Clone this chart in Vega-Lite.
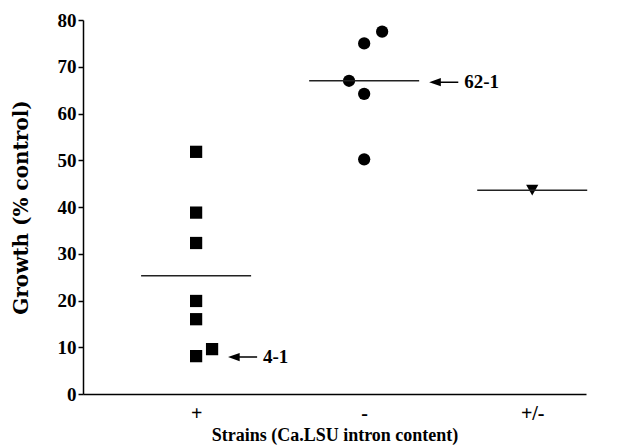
{
  "$schema": "https://vega.github.io/schema/vega-lite/v6.json",
  "width": 503,
  "height": 374,
  "autosize": "none",
  "padding": {"left": 83, "top": 20, "right": 58, "bottom": 53},
  "background": "white",
  "config": {
    "view": {"stroke": null},
    "font": "Liberation Serif",
    "axis": {
      "labelFont": "Liberation Serif",
      "titleFont": "Liberation Serif",
      "labelFontWeight": "bold",
      "titleFontWeight": "bold",
      "labelColor": "black",
      "titleColor": "black",
      "domainColor": "black",
      "tickColor": "black",
      "grid": false
    }
  },
  "datasets": {
    "points": [
      {"strain": "+", "slot": 1.0, "growth": 51.8},
      {"strain": "+", "slot": 1.0, "growth": 38.8},
      {"strain": "+", "slot": 1.0, "growth": 32.3},
      {"strain": "+", "slot": 1.0, "growth": 19.9},
      {"strain": "+", "slot": 1.0, "growth": 16.0},
      {"strain": "+", "slot": 1.0, "growth": 8.1},
      {"strain": "+", "slot": 1.095, "growth": 9.6},
      {"strain": "-", "slot": 2.107, "growth": 77.5},
      {"strain": "-", "slot": 2.0, "growth": 75.0},
      {"strain": "-", "slot": 1.91, "growth": 67.0},
      {"strain": "-", "slot": 2.0, "growth": 64.2},
      {"strain": "-", "slot": 2.0, "growth": 50.2},
      {"strain": "+/-", "slot": 3.0, "growth": 43.6}
    ],
    "means": [
      {"strain": "+", "slot": 1.0, "growth": 25.3},
      {"strain": "-", "slot": 2.0, "growth": 67.0},
      {"strain": "+/-", "slot": 3.0, "growth": 43.6}
    ],
    "notes": [
      {"strain": "-", "slot": 2.387, "growth": 66.7, "label": "62-1"},
      {"strain": "+", "slot": 1.19, "growth": 7.9, "label": "4-1"}
    ]
  },
  "encoding": {
    "x": {
      "field": "slot",
      "type": "quantitative",
      "scale": {"domain": [0.327, 3.32], "nice": false, "zero": false},
      "axis": {
        "values": [1, 2, 3],
        "labelExpr": "datum.value == 1 ? '+' : datum.value == 2 ? '-' : '+/-'",
        "title": "Strains (Ca.LSU intron content)",
        "labelFontSize": 20,
        "titleFontSize": 18,
        "ticks": false,
        "labelPadding": 9,
        "titlePadding": 3,
        "domainWidth": 1.5
      }
    },
    "y": {
      "field": "growth",
      "type": "quantitative",
      "scale": {"domain": [0, 80], "nice": false},
      "axis": {
        "values": [0, 10, 20, 30, 40, 50, 60, 70, 80],
        "title": "Growth (% control)",
        "titleFont": "DejaVu Serif",
        "labelFontSize": 19,
        "titleFontSize": 20,
        "tickSize": 5,
        "tickWidth": 1.5,
        "domainWidth": 1.5,
        "labelPadding": 2,
        "titlePadding": 26
      }
    }
  },
  "layer": [
    {
      "data": {"name": "points"},
      "mark": {"type": "point", "filled": true, "opacity": 1, "size": 150, "color": "black"},
      "encoding": {
        "shape": {
          "field": "strain",
          "type": "nominal",
          "scale": {"domain": ["+", "-", "+/-"], "range": ["square", "circle", "triangle-down"]},
          "legend": null
        }
      }
    },
    {
      "data": {"name": "means"},
      "mark": {"type": "tick", "orient": "horizontal", "size": 110, "thickness": 1.5, "color": "#222222", "opacity": 1}
    },
    {
      "data": {"name": "notes"},
      "mark": {
        "type": "point",
        "filled": true,
        "opacity": 1,
        "color": "black",
        "strokeWidth": 0,
        "size": 376,
        "shape": "M0,0L1.2,-0.42L1.2,0.42Z M1.2,-0.08L3,-0.08L3,0.08L1.2,0.08Z"
      }
    },
    {
      "data": {"name": "notes"},
      "mark": {"type": "text", "align": "left", "baseline": "middle", "dx": 35, "fontSize": 19, "fontWeight": "bold", "font": "Liberation Serif", "color": "black"},
      "encoding": {"text": {"field": "label", "type": "nominal"}}
    }
  ]
}
